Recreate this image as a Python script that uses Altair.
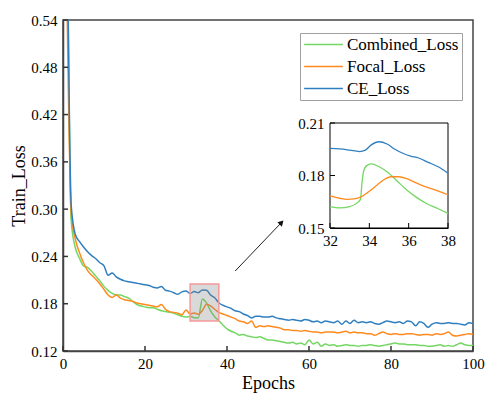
import altair as alt
import pandas as pd

# ---------------- data ----------------
epochs = list(range(1, 101))
series_names = ["Combined_Loss", "Focal_Loss", "CE_Loss"]
series_colors = ["#74d663", "#ff8a1e", "#2f7fc0"]

combined_loss = [
    0.680, 0.285, 0.251, 0.238, 0.228, 0.226, 0.221, 0.215, 0.209, 0.202,
    0.197, 0.193, 0.191, 0.191, 0.189, 0.187, 0.183, 0.179, 0.177, 0.176,
    0.175, 0.175, 0.173, 0.171, 0.170, 0.169, 0.168, 0.166, 0.164, 0.163,
    0.164, 0.1622, 0.162, 0.186, 0.181, 0.171, 0.1635, 0.1584, 0.153, 0.148,
    0.145, 0.143, 0.140, 0.141, 0.139, 0.138, 0.137, 0.138, 0.136, 0.134,
    0.134, 0.133, 0.132, 0.131, 0.130, 0.131, 0.129, 0.130, 0.128, 0.134,
    0.129, 0.131, 0.126, 0.129, 0.127, 0.128, 0.126, 0.127, 0.128, 0.127,
    0.127, 0.126, 0.127, 0.127, 0.128, 0.127, 0.126, 0.127, 0.128, 0.129,
    0.130, 0.129, 0.129, 0.128, 0.128, 0.128, 0.127, 0.127, 0.126, 0.126,
    0.127, 0.128, 0.126, 0.127, 0.126, 0.128, 0.130, 0.128, 0.127, 0.127,
]
focal_loss = [
    0.555, 0.295, 0.262, 0.245, 0.232, 0.222, 0.216, 0.211, 0.205, 0.198,
    0.191, 0.188, 0.191, 0.187, 0.185, 0.184, 0.183, 0.181, 0.180, 0.179,
    0.178, 0.177, 0.176, 0.179, 0.173, 0.170, 0.169, 0.168, 0.166, 0.172,
    0.167, 0.1683, 0.1665, 0.1715, 0.1793, 0.1772, 0.173, 0.169, 0.167, 0.165,
    0.163, 0.161, 0.158, 0.157, 0.155, 0.158, 0.150, 0.152, 0.151, 0.152,
    0.151, 0.150, 0.149, 0.147, 0.147, 0.146, 0.146, 0.145, 0.146, 0.145,
    0.144, 0.144, 0.143, 0.144, 0.144, 0.144, 0.143, 0.144, 0.145, 0.143,
    0.144, 0.143, 0.143, 0.142, 0.142, 0.140, 0.142, 0.144, 0.142, 0.141,
    0.142, 0.141, 0.141, 0.142, 0.142, 0.141, 0.140, 0.141, 0.141, 0.140,
    0.142, 0.141, 0.142, 0.144, 0.140, 0.139, 0.140, 0.141, 0.142, 0.141,
]
ce_loss = [
    0.680, 0.305, 0.268, 0.259, 0.252, 0.246, 0.241, 0.237, 0.232, 0.228,
    0.216, 0.219, 0.214, 0.211, 0.209, 0.208, 0.207, 0.206, 0.205, 0.204,
    0.203, 0.201, 0.200, 0.202, 0.197, 0.196, 0.194, 0.192, 0.195, 0.196,
    0.193, 0.1955, 0.194, 0.1975, 0.197, 0.191, 0.1875, 0.1813, 0.178, 0.176,
    0.174, 0.171, 0.170, 0.167, 0.165, 0.162, 0.164, 0.164, 0.163, 0.163,
    0.164, 0.162, 0.161, 0.160, 0.159, 0.160, 0.159, 0.158, 0.160, 0.159,
    0.157, 0.158, 0.156, 0.158, 0.157, 0.156, 0.158, 0.154, 0.158, 0.155,
    0.159, 0.156, 0.157, 0.156, 0.157, 0.155, 0.154, 0.156, 0.158, 0.157,
    0.156, 0.157, 0.155, 0.158, 0.157, 0.152, 0.157, 0.155, 0.150, 0.154,
    0.156, 0.155, 0.155, 0.156, 0.155, 0.155, 0.154, 0.153, 0.156, 0.155,
]

# zoomed detail (epochs 32-38)
inset_combined_epochs = [32, 32.5, 33, 33.4, 33.55, 33.62, 33.7, 33.85, 34.1, 34.5,
                         34.9, 35.4, 35.9, 36.4, 36.9, 37.5, 38]
inset_combined = [0.1622, 0.1615, 0.1622, 0.1645, 0.1665, 0.175, 0.182, 0.1855, 0.1866, 0.185,
                  0.1822, 0.177, 0.1717, 0.1675, 0.164, 0.161, 0.1584]
inset_focal_epochs = [32, 32.5, 32.85, 33.3, 33.6, 34, 34.4, 34.8, 35.1, 35.5,
                      35.9, 36.3, 36.8, 37.4, 38]
inset_focal = [0.1683, 0.167, 0.1664, 0.1668, 0.1679, 0.171, 0.1746, 0.178, 0.1793, 0.1793,
               0.1782, 0.1762, 0.1738, 0.1715, 0.169]
inset_ce_epochs = [32, 32.5, 33, 33.5, 33.8, 34.1, 34.5, 34.9, 35.3, 35.7,
                   36.1, 36.5, 37, 37.5, 38]
inset_ce = [0.1955, 0.1952, 0.1945, 0.1937, 0.1945, 0.1975, 0.1993, 0.198, 0.195, 0.1927,
            0.1911, 0.190, 0.1875, 0.185, 0.1813]

x_ticks = [0, 20, 40, 60, 80, 100]
y_ticks = [0.12, 0.18, 0.24, 0.30, 0.36, 0.42, 0.48, 0.54]
inset_x_ticks = [32, 34, 36, 38]
inset_y_ticks = [0.15, 0.18, 0.21]
inset_x_domain = [32, 38]
inset_y_domain = [0.15, 0.21]

highlight_x = [31, 38]
highlight_y = [0.158, 0.205]
arrow_x = [42.0, 53.0]
arrow_y = [0.2215, 0.2815]
arrow_head_x = [53.3]
arrow_head_y = [0.2830]

# ---------------- layout constants ----------------
W, H = 410, 331
INSET_X_RANGE = [267, 385]
INSET_Y_RANGE = [208, 103]
FONT = "'Liberation Serif', 'Times New Roman', Times, serif"

main_df = pd.concat([
    pd.DataFrame({"epoch": epochs, "loss": combined_loss, "series": series_names[0]}),
    pd.DataFrame({"epoch": epochs, "loss": focal_loss, "series": series_names[1]}),
    pd.DataFrame({"epoch": epochs, "loss": ce_loss, "series": series_names[2]}),
], ignore_index=True)
main_df["order"] = main_df.index

inset_df = pd.concat([
    pd.DataFrame({"epoch": inset_combined_epochs, "loss": inset_combined, "series": series_names[0]}),
    pd.DataFrame({"epoch": inset_focal_epochs, "loss": inset_focal, "series": series_names[1]}),
    pd.DataFrame({"epoch": inset_ce_epochs, "loss": inset_ce, "series": series_names[2]}),
], ignore_index=True)
inset_df["order"] = inset_df.index

color_scale = alt.Scale(domain=series_names, range=series_colors)

# ---------------- main panel ----------------
mx_scale = alt.Scale(domain=[0, 100], nice=False, zero=False)
my_scale = alt.Scale(domain=[0.12, 0.54], nice=False, zero=False)
mx_axis = alt.Axis(values=x_ticks, format="d", title="Epochs", ticks=False,
                   labelFlush=False, labelPadding=5, titlePadding=3,
                   domainColor="#444", domainWidth=1.5, grid=False)
my_axis = alt.Axis(values=y_ticks, format=".2f", title="Train_Loss", ticks=False,
                   labelPadding=6, titlePadding=2, titleFontSize=18,
                   domainColor="#444", domainWidth=1.5, grid=False)


def MX(field):
    return alt.X(field, type="quantitative", scale=mx_scale, axis=mx_axis)


def MY(field):
    return alt.Y(field, type="quantitative", scale=my_scale, axis=my_axis)


lines = alt.Chart(main_df).mark_line(strokeWidth=1.5, clip=True, interpolate="monotone").encode(
    x=MX("epoch"), y=MY("loss"),
    color=alt.Color("series:N", scale=color_scale, sort=series_names,
                    legend=alt.Legend(orient="none", legendX=237, legendY=13, title=None,
                                      symbolType="stroke", symbolSize=1500, symbolStrokeWidth=1.5,
                                      clipHeight=17,
                                      labelFont=FONT, labelFontSize=17, labelColor="black",
                                      strokeColor="#a0a0a0", fillColor="white", padding=3,
                                      rowPadding=4, labelOffset=3)),
    order="order:Q",
)

hl_df = pd.DataFrame({"epoch": [highlight_x[0]], "epoch2": [highlight_x[1]],
                      "loss": [highlight_y[0]], "loss2": [highlight_y[1]]})
highlight = alt.Chart(hl_df).mark_rect(fill="gray", fillOpacity=0.3, stroke="#f59a9a",
                                       strokeWidth=1.5).encode(
    x=MX("epoch"), x2="epoch2", y=MY("loss"), y2="loss2")

arrow_df = pd.DataFrame({"epoch": arrow_x, "loss": arrow_y})
arrow = alt.Chart(arrow_df).mark_line(color="#222", strokeWidth=1).encode(x=MX("epoch"), y=MY("loss"))
head_df = pd.DataFrame({"epoch": arrow_head_x, "loss": arrow_head_y})
head = alt.Chart(head_df).mark_point(shape="triangle-up", filled=True, size=40, angle=44,
                                     color="#111", opacity=1).encode(x=MX("epoch"), y=MY("loss"))

xt_df = pd.DataFrame({"epoch": x_ticks})
xticks = alt.Chart(xt_df).mark_rule(color="#333", strokeWidth=1.5).encode(
    x=MX("epoch"), y=alt.value(H), y2=alt.value(H - 5))
yt_df = pd.DataFrame({"loss": y_ticks})
yticks = alt.Chart(yt_df).mark_rule(color="#333", strokeWidth=1.5).encode(
    y=MY("loss"), x=alt.value(0), x2=alt.value(5))

main = alt.layer(lines, highlight, arrow, head, xticks, yticks)

# ---------------- inset panel ----------------
ix_scale = alt.Scale(domain=inset_x_domain, range=INSET_X_RANGE, nice=False, zero=False)
iy_scale = alt.Scale(domain=inset_y_domain, range=INSET_Y_RANGE, nice=False, zero=False)
ix_axis = alt.Axis(values=inset_x_ticks, format="d", title=None, ticks=False, orient="bottom",
                   offset=-(H - INSET_Y_RANGE[0]), labelFlush=False, labelPadding=5,
                   domainColor="black", domainWidth=1, grid=False)
iy_axis = alt.Axis(values=inset_y_ticks, format=".2f", title=None, ticks=False, orient="left",
                   offset=-INSET_X_RANGE[0], labelPadding=6, labelFlush=False,
                   domainColor="black", domainWidth=1, grid=False)


def IX(field):
    return alt.X(field, type="quantitative", scale=ix_scale, axis=ix_axis)


def IY(field):
    return alt.Y(field, type="quantitative", scale=iy_scale, axis=iy_axis)


box_df = pd.DataFrame({"epoch": [inset_x_domain[0]], "epoch2": [inset_x_domain[1]],
                       "loss": [inset_y_domain[0]], "loss2": [inset_y_domain[1]]})
box = alt.Chart(box_df).mark_rect(fill="white", stroke="black", strokeWidth=1).encode(
    x=IX("epoch"), x2="epoch2", y=IY("loss"), y2="loss2")

ilines = alt.Chart(inset_df).mark_line(strokeWidth=1.3, interpolate="monotone", clip=False).encode(
    x=IX("epoch"), y=IY("loss"),
    color=alt.Color("series:N", scale=color_scale, sort=series_names, legend=None),
    order="order:Q",
)

ixt_df = pd.DataFrame({"epoch": inset_x_ticks})
ixticks = alt.Chart(ixt_df).mark_rule(color="black", strokeWidth=1).encode(
    x=IX("epoch"), y=alt.value(INSET_Y_RANGE[0]), y2=alt.value(INSET_Y_RANGE[0] - 5))
iyt_df = pd.DataFrame({"loss": inset_y_ticks})
iyticks = alt.Chart(iyt_df).mark_rule(color="black", strokeWidth=1).encode(
    y=IY("loss"), x=alt.value(INSET_X_RANGE[0]), x2=alt.value(INSET_X_RANGE[0] + 5))

inset = alt.layer(box, ilines, ixticks, iyticks)

chart = alt.layer(main, inset).resolve_scale(x="independent", y="independent").properties(
    width=W, height=H,
    autosize=alt.AutoSizeParams(type="none"),
    padding={"left": 55, "top": 12, "right": 13, "bottom": 44},
).configure(font=FONT).configure_view(stroke="#444", strokeWidth=1.5).configure_axis(
    labelFont=FONT, labelFontSize=15, labelColor="black",
    titleFont=FONT, titleFontSize=18, titleColor="black", titleFontWeight="normal",
).configure_legend(labelFont=FONT)

chart.save("out.html", embed_options={"renderer": "svg", "actions": False})
